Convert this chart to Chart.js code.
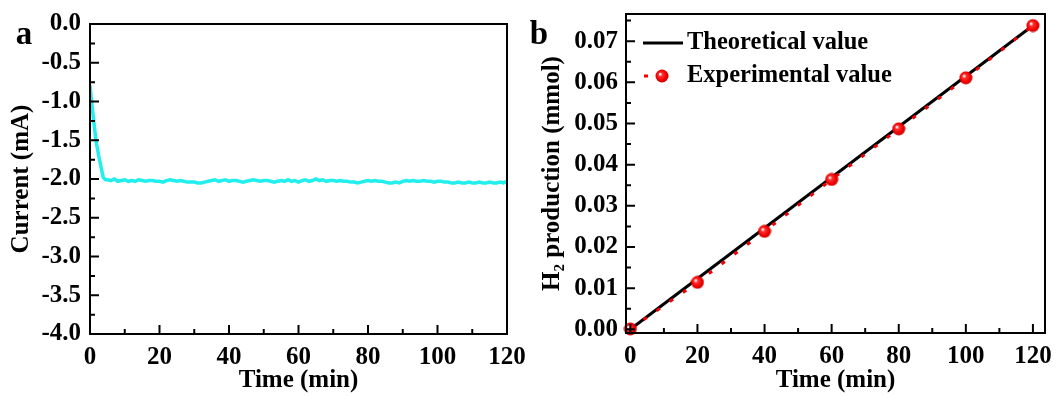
<!DOCTYPE html>
<html>
<head>
<meta charset="utf-8">
<script src="https://cdn.jsdelivr.net/npm/chart.js@4.4.1/dist/chart.umd.min.js"></script>
<style>
  body { margin: 0; background: #fff; }
  canvas { position: absolute; top: 0; }
</style>
</head>
<body>
<canvas id="chartA" width="528" height="396" style="left:0;width:528px;height:396px"></canvas>
<canvas id="chartB" width="530" height="396" style="left:528px;width:530px;height:396px"></canvas>
<script>
// panel a: current vs time
const timeA = [0, 0.5, 1, 1.7, 2.5, 3.2, 3.8, 4.5,
  5, 6, 7, 8, 9, 10, 11, 12, 13, 14, 15, 16, 17, 18, 19, 20, 21, 22, 23, 24,
  25, 26, 27, 28, 29, 30, 31, 32, 33, 34, 35, 36, 37, 38, 39, 40, 41, 42, 43, 44,
  45, 46, 47, 48, 49, 50, 51, 52, 53, 54, 55, 56, 57, 58, 59, 60, 61, 62, 63, 64,
  65, 66, 67, 68, 69, 70, 71, 72, 73, 74, 75, 76, 77, 78, 79, 80, 81, 82, 83, 84,
  85, 86, 87, 88, 89, 90, 91, 92, 93, 94, 95, 96, 97, 98, 99, 100, 101, 102, 103, 104,
  105, 106, 107, 108, 109, 110, 111, 112, 113, 114, 115, 116, 117, 118, 119, 120];
const currentA = [-0.79, -1.02, -1.22, -1.5, -1.7, -1.85, -1.98, -2.01,
  -2.01, -2.02, -2.00, -2.03, -2.02, -2.01, -2.03, -2.02, -2.03, -2.01, -2.02, -2.03, -2.02, -2.02, -2.03, -2.03, -2.04, -2.02, -2.01, -2.02,
  -2.03, -2.02, -2.03, -2.04, -2.04, -2.04, -2.05, -2.05, -2.04, -2.03, -2.02, -2.01, -2.03, -2.02, -2.01, -2.03, -2.02, -2.02, -2.03, -2.04,
  -2.03, -2.02, -2.01, -2.02, -2.03, -2.02, -2.02, -2.03, -2.04, -2.03, -2.02, -2.03, -2.01, -2.03, -2.02, -2.04, -2.02, -2.01, -2.03, -2.02,
  -2.00, -2.02, -2.01, -2.03, -2.02, -2.02, -2.03, -2.02, -2.03, -2.03, -2.04, -2.04, -2.05, -2.04, -2.03, -2.02, -2.03, -2.02, -2.03, -2.03,
  -2.04, -2.05, -2.05, -2.04, -2.05, -2.03, -2.02, -2.03, -2.02, -2.03, -2.03, -2.02, -2.03, -2.03, -2.04, -2.03, -2.03, -2.04, -2.04, -2.05,
  -2.05, -2.04, -2.05, -2.05, -2.04, -2.05, -2.05, -2.04, -2.05, -2.05, -2.04, -2.05, -2.05, -2.04, -2.05, -2.03];
const xTicksA = [0, 20, 40, 60, 80, 100, 120];
const xMinorA = [10, 30, 50, 70, 90, 110];
const yTicksA = [-4, -3.5, -3, -2.5, -2, -1.5, -1, -0.5, 0];
const yMinorA = [-3.75, -3.25, -2.75, -2.25, -1.75, -1.25, -0.75, -0.25];

// panel b: H2 production
const timeB = [0, 20, 40, 60, 80, 100, 120];
const h2Exp = [0.0001, 0.0114, 0.0238, 0.0364, 0.0487, 0.0611, 0.0738];
const timeTheo = [0, 120];
const h2Theo = [0, 0.0738];
const xTicksB = [0, 20, 40, 60, 80, 100, 120];
const xMinorB = [10, 30, 50, 70, 90, 110];
const yTicksB = [0, 0.01, 0.02, 0.03, 0.04, 0.05, 0.06, 0.07];
const yMinorB = [0.005, 0.015, 0.025, 0.035, 0.045, 0.055, 0.065, 0.075];

const FONT = "'Liberation Serif', 'Times New Roman', serif";

function toXY(xs, ys) {
  return xs.map((x, i) => ({ x: x, y: ys[i] }));
}

// box around plot area + inward ticks
function framePlugin(xMajor, xMinor, yMajor, yMinor, label, labelX) {
  return {
    id: 'frame',
    afterDatasetsDraw(chart) {
      const { ctx, chartArea: a, scales } = chart;
      ctx.save();
      ctx.strokeStyle = '#000';
      ctx.lineWidth = 2;
      ctx.strokeRect(a.left, a.top, a.right - a.left, a.bottom - a.top);
      ctx.beginPath();
      xMajor.forEach(v => { const p = scales.x.getPixelForValue(v); ctx.moveTo(p, a.bottom); ctx.lineTo(p, a.bottom - 9); });
      xMinor.forEach(v => { const p = scales.x.getPixelForValue(v); ctx.moveTo(p, a.bottom); ctx.lineTo(p, a.bottom - 5); });
      yMajor.forEach(v => { const p = scales.y.getPixelForValue(v); ctx.moveTo(a.left, p); ctx.lineTo(a.left + 9, p); });
      yMinor.forEach(v => { const p = scales.y.getPixelForValue(v); ctx.moveTo(a.left, p); ctx.lineTo(a.left + 5, p); });
      ctx.stroke();
      ctx.fillStyle = '#000';
      ctx.font = 'bold 33px ' + FONT;
      ctx.textAlign = 'center';
      ctx.textBaseline = 'alphabetic';
      ctx.fillText(label, labelX, 44);
      ctx.restore();
    }
  };
}

function noOverflow(s) {
  s.paddingLeft = 0; s.paddingRight = 0; s.paddingTop = 0; s.paddingBottom = 0;
}

function axisX(min, max, ticks, height) {
  return {
    type: 'linear', min: min, max: max,
    afterBuildTicks: s => { s.ticks = ticks.map(v => ({ value: v })); },
    afterFit: s => { s.height = height; noOverflow(s); },
    grid: { display: false, drawTicks: false },
    border: { display: false },
    ticks: { color: '#000', padding: 9, maxRotation: 0, autoSkip: false,
      font: { family: FONT, weight: 'bold', size: 25 } },
    title: { display: true, text: 'Time (min)', color: '#000', padding: 0,
      font: { family: FONT, weight: 'bold', size: 25 } }
  };
}

// sphere-like red marker
const sphere = document.createElement('canvas');
sphere.width = 14; sphere.height = 14;
(function () {
  const c = sphere.getContext('2d');
  const g = c.createRadialGradient(5, 5, 0.5, 7, 7, 7);
  g.addColorStop(0, '#ffffff');
  g.addColorStop(0.25, '#ff3030');
  g.addColorStop(0.7, '#f00000');
  g.addColorStop(1, '#c00000');
  c.fillStyle = g;
  c.beginPath(); c.arc(7, 7, 6.5, 0, Math.PI * 2); c.fill();
})();

new Chart(document.getElementById('chartA'), {
  type: 'line',
  data: {
    datasets: [{
      data: toXY(timeA, currentA),
      borderColor: '#22eeee',
      borderWidth: 3.5,
      pointRadius: 0,
      tension: 0,
      fill: false
    }]
  },
  options: {
    responsive: false,
    animation: false,
    devicePixelRatio: 1,
    layout: { padding: { top: 24, right: 21, left: 0, bottom: 0 } },
    plugins: { legend: { display: false }, tooltip: { enabled: false } },
    scales: {
      x: axisX(0, 120, xTicksA, 62),
      y: {
        type: 'linear', min: -4, max: 0,
        afterBuildTicks: s => { s.ticks = yTicksA.map(v => ({ value: v })); },
        afterFit: s => { s.width = 90; noOverflow(s); },
        grid: { display: false, drawTicks: false },
        border: { display: false },
        ticks: { color: '#000', padding: 9, callback: v => v.toFixed(1),
          font: { family: FONT, weight: 'bold', size: 25 } },
        title: { display: true, text: 'Current (mA)', color: '#000', padding: { top: 7 },
          font: { family: FONT, weight: 'bold', size: 25 } }
      }
    }
  },
  plugins: [framePlugin(xTicksA, xMinorA, yTicksA, yMinorA, 'a', 24)]
});

// legend for panel b, drawn inside the plot area
const legendB = {
  id: 'legendB',
  afterDraw(chart) {
    const ctx = chart.ctx;
    ctx.save();
    ctx.strokeStyle = '#000';
    ctx.lineWidth = 3;
    ctx.beginPath(); ctx.moveTo(115, 43); ctx.lineTo(155, 43); ctx.stroke();
    ctx.strokeStyle = '#f00000';
    ctx.beginPath(); ctx.moveTo(116, 76); ctx.lineTo(120, 76); ctx.stroke();
    ctx.drawImage(sphere, 127, 69);
    ctx.fillStyle = '#000';
    ctx.font = 'bold 24.5px ' + FONT;
    ctx.textBaseline = 'middle';
    ctx.fillText('Theoretical value', 159, 43);
    ctx.fillText('Experimental value', 159, 76);
    ctx.restore();
  }
};

new Chart(document.getElementById('chartB'), {
  type: 'line',
  data: {
    datasets: [{
      label: 'Experimental value',
      data: toXY(timeB, h2Exp),
      borderColor: '#f00000',
      borderWidth: 3,
      borderDash: [4, 12],
      pointStyle: sphere,
      pointRadius: 7,
      tension: 0,
      fill: false,
      clip: false
    }, {
      label: 'Theoretical value',
      data: toXY(timeTheo, h2Theo),
      borderColor: '#000',
      borderWidth: 3,
      pointRadius: 0,
      tension: 0,
      fill: false
    }]
  },
  options: {
    responsive: false,
    animation: false,
    devicePixelRatio: 1,
    layout: { padding: { top: 14, right: 13, left: 0, bottom: 0 } },
    plugins: { legend: { display: false }, tooltip: { enabled: false } },
    scales: {
      x: axisX(-1.3, 123.6, xTicksB, 63),
      y: {
        type: 'linear', min: -0.0009, max: 0.0766,
        afterBuildTicks: s => { s.ticks = yTicksB.map(v => ({ value: v })); },
        afterFit: s => { s.width = 98; noOverflow(s); },
        grid: { display: false, drawTicks: false },
        border: { display: false },
        ticks: { color: '#000', padding: 8, callback: v => v.toFixed(2),
          font: { family: FONT, weight: 'bold', size: 25 } },
        title: { display: true, text: 'H\u2082 production (mmol)', color: '#000', padding: { top: 10 },
          font: { family: FONT, weight: 'bold', size: 25 } }
      }
    }
  },
  plugins: [framePlugin(xTicksB, xMinorB, yTicksB, yMinorB, 'b', 11), legendB]
});
</script>
</body>
</html>
